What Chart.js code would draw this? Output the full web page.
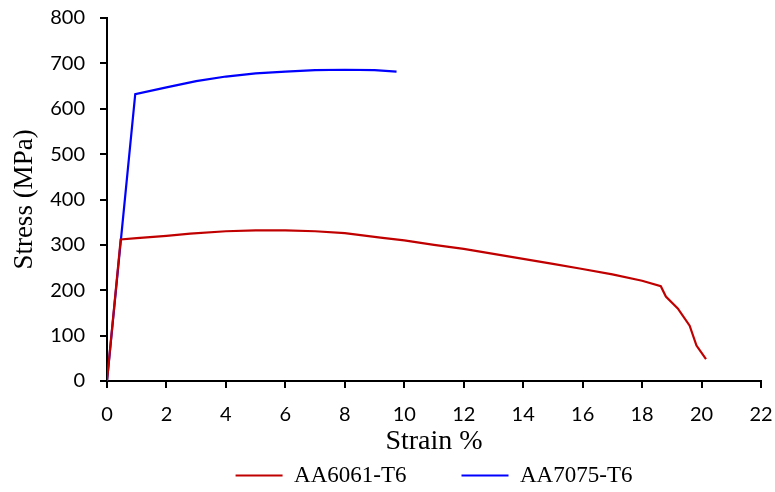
<!DOCTYPE html>
<html>
<head>
<meta charset="utf-8">
<script src="https://cdn.jsdelivr.net/npm/chart.js@4.4.1/dist/chart.umd.min.js"></script>
<style>
  html, body { margin: 0; padding: 0; background: #fff; }
  #wrap { width: 775px; height: 492px; }
</style>
</head>
<body>
<div id="wrap"><canvas id="stressStrain"></canvas></div>
<script>
// strain (%) / stress (MPa)
const strain6061 = [0, 0.46, 1, 2, 2.8, 4, 5, 6, 7, 8, 9.2, 10, 11, 12, 12.55, 13, 14, 15, 15.9, 17, 18, 18.63, 18.8, 19.2, 19.6, 19.83, 20.15];
const stress6061 = [0, 312, 315, 320, 325, 330, 332, 332, 330, 326, 316, 310, 300, 291, 285, 280, 269, 258, 248, 235, 221, 209, 186, 160, 122, 78, 48];
const strain7075 = [0, 0.95, 2, 3, 4, 5, 6, 7, 8, 9, 9.74];
const stress7075 = [0, 632, 647, 661, 671, 678, 682, 685, 686, 685, 682];
const seriesNames = ['AA6061-T6', 'AA7075-T6'];
const xTicks = [0, 2, 4, 6, 8, 10, 12, 14, 16, 18, 20, 22];
const yTicks = [0, 100, 200, 300, 400, 500, 600, 700, 800];

const toPoints = (xs, ys) => xs.map((x, i) => ({x: x, y: ys[i]}));

const legendGap = 55;   // wide gap between the two legend entries

// legend padding also pads vertically; pull the row back up after layout
// (only the top moves, so the clip box still covers the row)
const legendLift = {
    id: 'legendLift',
    afterLayout: function(chart) {
        if (chart.legend) {
            chart.legend.top -= legendGap;
        }
    }
};

const axisGrid = {
    drawOnChartArea: false,
    drawTicks: true,
    tickLength: 7,
    color: '#000',
    lineWidth: 2
};
const axisBorder = { display: true, color: '#000', width: 2 };
const tickFont = { family: 'Lato', size: 20 };
const serif = 'Liberation Serif';

new Chart(document.querySelector('#stressStrain'), {
    type: 'scatter',
    data: {
        datasets: [
            {
                label: seriesNames[0],
                data: toPoints(strain6061, stress6061),
                showLine: true,
                borderColor: '#C00000',
                backgroundColor: '#C00000',
                borderWidth: 2.2,
                pointRadius: 0,
                pointStyle: 'line',
                tension: 0
            },
            {
                label: seriesNames[1],
                data: toPoints(strain7075, stress7075),
                showLine: true,
                borderColor: '#0000FF',
                backgroundColor: '#0000FF',
                borderWidth: 2.2,
                pointRadius: 0,
                pointStyle: 'line',
                tension: 0
            }
        ]
    },
    options: {
        responsive: true,
        maintainAspectRatio: false,
        animation: false,
        layout: { padding: { top: 18, right: 14, bottom: -5, left: 0 } },
        plugins: {
            legend: {
                position: 'bottom',
                fullSize: false,
                maxHeight: 33,
                labels: {
                    usePointStyle: true,
                    pointStyle: 'line',
                    pointStyleWidth: 47,
                    boxWidth: 47,
                    padding: legendGap,
                    color: '#000',
                    font: { family: serif, size: 23 }
                }
            },
            tooltip: { enabled: false }
        },
        scales: {
            x: {
                type: 'linear',
                min: 0,
                max: 22,
                afterBuildTicks: (scale) => { scale.ticks = xTicks.map(v => ({value: v})); },
                afterFit: (scale) => {
                    scale.height = 83;
                    scale.paddingLeft = 0;
                    scale.paddingRight = 0;
                },
                grid: axisGrid,
                border: axisBorder,
                ticks: { color: '#000', font: tickFont, padding: 15, maxRotation: 0 },
                title: {
                    display: true,
                    text: 'Strain %',
                    color: '#000',
                    font: { family: serif, size: 28 },
                    padding: { top: 0, bottom: 6 }
                }
            },
            y: {
                min: 0,
                max: 800,
                afterBuildTicks: (scale) => { scale.ticks = yTicks.map(v => ({value: v})); },
                afterFit: (scale) => {
                    scale.width = 107;
                    scale.paddingTop = 0;
                    scale.paddingBottom = 0;
                },
                grid: axisGrid,
                border: axisBorder,
                ticks: { color: '#000', font: tickFont, padding: 15 },
                title: {
                    display: true,
                    text: 'Stress (MPa)',
                    color: '#000',
                    font: { family: serif, size: 27 },
                    padding: { top: 9, bottom: 0 }
                }
            }
        }
    },
    plugins: [legendLift]
});
</script>
</body>
</html>
